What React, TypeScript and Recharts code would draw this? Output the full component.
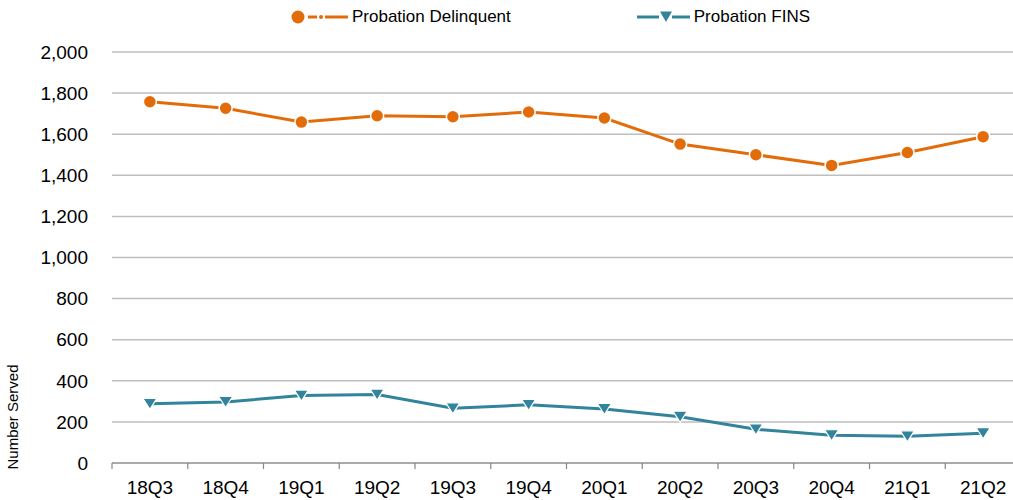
import React from "react";
import { CartesianGrid, Line, LineChart, XAxis, YAxis } from "recharts";

// Quarterly numbers served.
const QUARTERS = ["18Q3", "18Q4", "19Q1", "19Q2", "19Q3", "19Q4", "20Q1", "20Q2", "20Q3", "20Q4", "21Q1", "21Q2"];
const DELINQUENT = [1758, 1726, 1659, 1690, 1685, 1708, 1679, 1552, 1500, 1448, 1511, 1588];
const FINS = [288, 297, 328, 333, 266, 283, 263, 225, 164, 135, 130, 145];
const Y_TICKS = [0, 200, 400, 600, 800, 1000, 1200, 1400, 1600, 1800, 2000];

const ORANGE = "#E36C0A";
const TEAL = "#31849B";
const FONT = "'Liberation Sans', Arial, sans-serif";

const data = QUARTERS.map((q, i) => ({ q, delinquent: DELINQUENT[i], fins: FINS[i] }));

const CHART_W = 1025;
const PLOT_LEFT = 112;
const PLOT_RIGHT = 1021;

function CircleDot(props: any) {
  const { cx, cy } = props;
  if (cx == null || cy == null) return null;
  return <circle cx={cx} cy={cy} r={6.5} fill={ORANGE} stroke="#fff" strokeWidth={1.5} />;
}

function TriangleDot(props: any) {
  const { cx, cy } = props;
  if (cx == null || cy == null) return null;
  return (
    <polygon
      points={`${cx - 7},${cy - 5.5} ${cx + 7},${cy - 5.5} ${cx},${cy + 5.5}`}
      fill={TEAL}
      stroke="#fff"
      strokeWidth={1.2}
    />
  );
}

// Excel-style category tick: label centred in the band, tick marks on band edges.
function QuarterTick(props: any) {
  const { x, y, payload, index } = props;
  const band = payload?.offset ? payload.offset * 2 : (PLOT_RIGHT - PLOT_LEFT) / QUARTERS.length;
  const left = x - band / 2;
  return (
    <g>
      <line x1={left} x2={left} y1={y - 6} y2={y} stroke="#868686" strokeWidth={1.2} />
      {index === QUARTERS.length - 1 && (
        <line x1={left + band} x2={left + band} y1={y - 6} y2={y} stroke="#868686" strokeWidth={1.2} />
      )}
      <text x={x} y={y + 25} textAnchor="middle" fontSize={19} fill="#000" fontFamily={FONT}>
        {payload.value}
      </text>
    </g>
  );
}

function LegendRow() {
  return (
    <div
      style={{
        position: "absolute",
        top: 7,
        left: 291,
        height: 20,
        display: "flex",
        alignItems: "center",
        fontFamily: FONT,
        fontSize: 17,
        lineHeight: "20px",
        color: "#000",
        whiteSpace: "nowrap",
      }}
    >
      <svg width={61} height={20}>
        <circle cx={7} cy={10} r={6.5} fill={ORANGE} />
        <line x1={17} x2={26} y1={10} y2={10} stroke={ORANGE} strokeWidth={3} />
        <circle cx={30} cy={10} r={2} fill={ORANGE} />
        <line x1={34} x2={57} y1={10} y2={10} stroke={ORANGE} strokeWidth={3} />
      </svg>
      <span>Probation Delinquent</span>
      <svg width={57} height={20} style={{ marginLeft: 126 }}>
        <line x1={0} x2={22} y1={10} y2={10} stroke={TEAL} strokeWidth={3} />
        <polygon points="23,4.5 35,4.5 29,15" fill={TEAL} />
        <line x1={35} x2={53} y1={10} y2={10} stroke={TEAL} strokeWidth={3} />
      </svg>
      <span>Probation FINS</span>
    </div>
  );
}

export default function App() {
  return (
    <div
      style={{
        position: "absolute",
        left: 0,
        top: 0,
        width: 1013,
        height: 500,
        overflow: "hidden",
        background: "#fff",
        fontFamily: FONT,
      }}
    >
      <LegendRow />
      <LineChart
        width={CHART_W}
        height={500}
        data={data}
        margin={{ top: 52, right: CHART_W - PLOT_RIGHT, left: 0, bottom: 0 }}
      >
        <CartesianGrid horizontal vertical={false} stroke="#BEBEBE" strokeWidth={1.5} />
        <XAxis
          dataKey="q"
          scale="band"
          interval={0}
          height={37}
          tickSize={6}
          tickMargin={0}
          tickLine={false}
          axisLine={{ stroke: "#868686", strokeWidth: 1.2 }}
          tick={<QuarterTick />}
        />
        <YAxis
          width={PLOT_LEFT}
          domain={[0, 2000]}
          ticks={Y_TICKS}
          interval={0}
          axisLine={false}
          tickLine={false}
          tickMargin={18}
          tickFormatter={(v: number) => v.toLocaleString("en-US")}
          tick={{ fontSize: 19, fill: "#000", fontFamily: FONT }}
          label={{
            value: "Number Served",
            angle: -90,
            position: "insideBottomLeft",
            offset: 0,
            content: () => (
              <text
                x={18}
                y={417}
                transform="rotate(-90 18 417)"
                textAnchor="middle"
                fontSize={15}
                fill="#000"
                fontFamily={FONT}
              >
                Number Served
              </text>
            ),
          }}
        />
        <Line
          dataKey="delinquent"
          name="Probation Delinquent"
          stroke={ORANGE}
          strokeWidth={3}
          dot={<CircleDot />}
          isAnimationActive={false}
        />
        <Line
          dataKey="fins"
          name="Probation FINS"
          stroke={TEAL}
          strokeWidth={3}
          dot={<TriangleDot />}
          isAnimationActive={false}
        />
      </LineChart>
    </div>
  );
}
